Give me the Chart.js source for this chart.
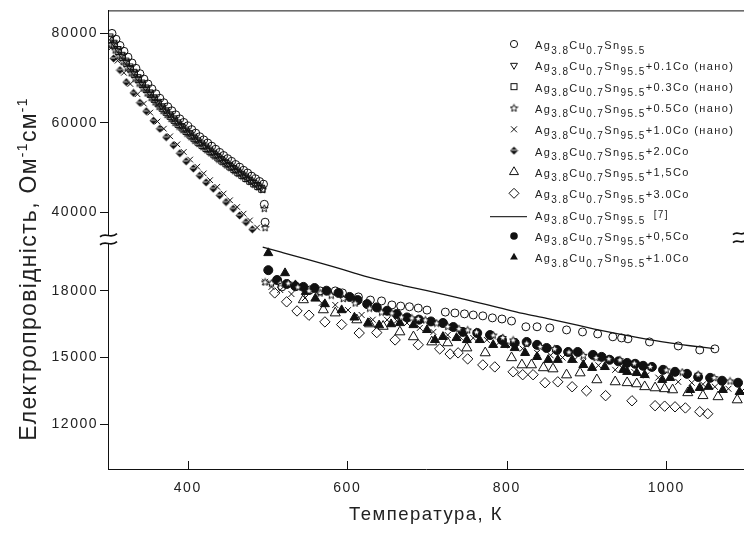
<!DOCTYPE html>
<html><head><meta charset="utf-8">
<script src="https://cdn.jsdelivr.net/npm/chart.js@4.4.0/dist/chart.umd.min.js"></script>
<style>html,body{margin:0;padding:0;background:#fff;overflow:hidden}canvas{display:block}</style>
</head><body>
<canvas id="c" width="744" height="534"></canvas>
<script>
// ---------- tick labels ----------
const xTicks = [400, 600, 800, 1000];
const yTopTicks = [40000, 60000, 80000];
const yBotTicks = [12000, 15000, 18000];
const xTitle = 'Температура, К';

// ---------- solid phase (upper segment) ----------
const circTopT = [305,310,315,320,325,330,335,340,345,350,355,360,365,370,375,380,385,390,395,400,405,410,415,420,425,430,435,440,445,450,455,460,465,470,475,480,485,490,495,496,497];
const circTopV = [80000,78700,77300,76000,74700,73400,72200,71000,69800,68700,67600,66500,65500,64500,63600,62700,61800,60900,60100,59300,58500,57700,56900,56200,55500,54800,54100,53400,52700,52000,51400,50700,50100,49400,48800,48100,47500,46900,46300,41800,37800];
const triDnT = [302,307,312,317,322,327,332,337,342,347,352,357,362,367,372,377,382,387,392,397,402,407,412,417,422,427,432,437,442,447,452,457,462,467,472,477,482,487,492];
const triDnV = [79400,78000,76600,75300,74000,72700,71500,70300,69100,68000,66900,65800,64800,63800,62900,62000,61100,60200,59400,58600,57800,57000,56200,55500,54800,54100,53400,52700,52000,51300,50700,50000,49400,48700,48100,47400,46800,46200,45600];
const sqT = [303,308,313,318,323,328,333,338,343,348,353,358,363,368,373,378,383,388,393,398,403,408,413,418,423,428,433,438,443,448,453,458,463,468,473,478,483,488,493];
const sqV = [78700,77400,76000,74700,73400,72100,70900,69700,68600,67500,66400,65300,64300,63300,62400,61500,60600,59700,58900,58100,57300,56500,55700,55000,54300,53600,52900,52200,51500,50900,50200,49600,48900,48300,47600,47000,46400,45800,45200];
const starTopT = [304,309,314,319,324,329,334,339,344,349,354,359,364,369,374,379,384,389,394,399,404,409,414,419,424,429,434,439,444,449,454,459,464,469,474,479,484,489,494,496,497];
const starTopV = [77500,76300,75000,73700,72400,71200,70000,68900,67800,66700,65700,64700,63700,62800,61900,61000,60100,59300,58500,57700,56900,56100,55400,54700,54000,53300,52600,51900,51300,50600,50000,49300,48700,48100,47500,46900,46300,45700,45100,40900,36600];
const crossTopT = [304,312,320,328,337,345,353,362,370,378,387,395,403,412,420,428,437,445,453,462,470,478,487];
const crossTopV = [76800,73900,71200,68700,66400,64300,62300,60300,58700,57000,55200,53500,51800,50200,48700,47200,45700,44200,42700,41200,39700,38200,36600];
const dia2T = [307,315,323,332,340,348,357,365,373,382,390,398,407,415,423,432,440,448,457,465,473,481];
const dia2V = [74400,71800,69100,66700,64500,62600,60500,58700,56800,55000,53200,51400,49800,48200,46700,45300,43800,42300,40800,39300,37800,36200];

// ---------- liquid phase (lower segment) ----------
const lineT = [494,520,550,580,610,640,670,700,730,760,790,820,850,880,910,940,970,1000,1030,1060];
const lineV = [19960,19700,19400,19100,18780,18480,18230,18000,17760,17500,17240,16980,16760,16520,16280,16060,15860,15680,15530,15400];
const circBotT = [518,553,566,585,594,614,629,643,656,667,678,689,700,723,735,747,758,770,782,794,806,824,838,854,875,895,914,933,944,952,979,1015,1042,1061];
const circBotV = [18170,18030,17990,17990,17900,17720,17580,17540,17360,17310,17280,17220,17130,17040,17000,16960,16910,16870,16780,16730,16640,16380,16380,16330,16240,16150,16060,15930,15880,15840,15700,15520,15340,15390];
const dia3T = [509,524,537,552,572,593,615,637,660,689,716,729,739,751,770,785,808,820,833,848,864,882,900,924,957,986,998,1011,1024,1042,1052];
const dia3V = [17900,17500,17090,16900,16600,16480,16100,16120,15790,15570,15390,15160,15210,14940,14670,14580,14360,14230,14230,13870,13910,13690,13510,13290,13060,12840,12820,12790,12740,12570,12480];
const tri15T = [545,570,585,612,628,645,666,683,706,726,750,773,806,819,831,846,858,875,892,913,936,951,963,973,986,998,1008,1027,1046,1065,1089];
const tri15V = [17590,17140,17000,16690,16510,16400,16150,15930,15700,15660,15430,15210,14990,14670,14670,14540,14490,14220,14310,14000,13910,13870,13820,13690,13640,13600,13550,13420,13290,13240,13100];
const dot05T = [501,512,524,535,545,559,574,589,603,613,625,637,650,662,675,690,705,720,733,745,763,779,794,810,825,838,850,863,877,889,908,919,929,940,951,961,971,982,996,1011,1026,1040,1055,1070,1090];
const dot05V = [18920,18480,18300,18200,18170,18120,18000,17900,17720,17580,17400,17250,17100,16950,16800,16700,16620,16550,16370,16150,16100,16010,15790,15660,15700,15570,15430,15340,15250,15250,15120,15030,14900,14830,14760,14720,14630,14580,14450,14360,14270,14130,14090,13960,13870];
const tri10T = [501,522,535,548,560,572,593,609,626,640,655,666,683,700,710,720,737,750,766,783,798,810,823,838,852,864,882,896,907,923,946,951,963,973,995,1005,1030,1042,1053,1071,1092];
const tri10V = [19690,18790,18250,17950,17650,17400,17130,16800,16550,16450,16500,16550,16460,16240,15790,15930,15880,15790,15790,15570,15570,15430,15210,15030,14900,14900,14900,14670,14540,14580,14450,14360,14310,14220,14000,14090,13550,13640,13690,13550,13460];
const starBotT = [497,505,516,526,538,552,566,580,595,610,628,643,656,668,681,689,698,712,726,740,751,762,783,795,808,825,842,860,878,896,912,928,942,960,980,1000,1020,1040,1060,1080];
const starBotV = [18390,18340,18340,18340,18170,18000,17900,17800,17650,17450,17220,17040,17000,16820,16780,16750,16690,16550,16400,16300,16240,16150,16010,15900,15790,15650,15500,15400,15250,15100,15000,14950,14900,14750,14600,14450,14350,14250,14100,13950];
const crossBotT = [497,505,516,530,547,568,585,601,618,632,650,662,675,691,708,726,741,758,775,791,805,820,838,855,870,885,896,915,936,946,960,975,990,1015,1032,1046,1061,1078,1095];
const crossBotV = [18400,18170,18030,17850,17670,17450,17360,17130,16910,16700,16690,16650,16550,16330,16150,16010,15930,15880,15790,15700,15550,15400,15210,15100,15000,14900,14810,14650,14450,14490,14350,14200,14100,13910,13870,13800,13690,13600,13500];

// ---------- legend ----------
const legendSuffix = ['', '+0.1Co (нано)', '+0.3Co (нано)', '+0.5Co (нано)', '+1.0Co (нано)', '+2.0Co', '+1,5Co', '+3.0Co', '[7]', '+0,5Co', '+1.0Co'];
const legendMarks = ['circ', 'triDn', 'sq', 'star', 'cross', 'dia2', 'triOpen', 'diaOpen', 'line', 'dot', 'triFill'];

const INK = '#111';
const NONE = 'rgba(0,0,0,0)';
const pts = (T, V) => T.map((t, i) => ({x: t, y: V[i]}));

function makeStar(size) {
  const c = document.createElement('canvas'); c.width = size; c.height = size;
  const g = c.getContext('2d'); const cx = size / 2, cy = size / 2 + 0.3;
  const R = size / 2 - 0.6, r = R * 0.45;
  g.beginPath();
  for (let i = 0; i < 10; i++) {
    const a = -Math.PI / 2 + i * Math.PI / 5; const rr = i % 2 ? r : R;
    g.lineTo(cx + rr * Math.cos(a), cy + rr * Math.sin(a));
  }
  g.closePath(); g.fillStyle = '#fff'; g.fill(); g.strokeStyle = INK; g.lineWidth = 1; g.stroke();
  return c;
}
function makeDia(size) {
  const c = document.createElement('canvas'); c.width = size; c.height = size;
  const g = c.getContext('2d'); const h = size / 2;
  g.beginPath(); g.moveTo(h, 0.5); g.lineTo(size - 0.5, h); g.lineTo(h, size - 0.5); g.lineTo(0.5, h); g.closePath();
  g.fillStyle = '#111'; g.fill();
  g.strokeStyle = '#ddd'; g.lineWidth = 1; g.beginPath(); g.moveTo(1.5, h - 0.5); g.lineTo(size - 1.5, h - 0.5); g.stroke();
  return c;
}
const starImg = makeStar(9);
const diaImg = makeDia(9);

function ds(label, T, V, axis, style) {
  return Object.assign({label, data: pts(T, V), yAxisID: axis, showLine: false,
    borderColor: INK, backgroundColor: NONE, pointBorderColor: INK, pointBackgroundColor: NONE,
    pointBorderWidth: 1, pointHoverRadius: 0}, style);
}

const datasets = [
  // lower segment
  Object.assign(ds('ref7', lineT, lineV, 'yBot', {}), {showLine: true, pointRadius: 0, borderWidth: 1.3, borderColor: '#151515', tension: 0.4, cubicInterpolationMode: 'monotone'}),
  ds('3.0Co', dia3T, dia3V, 'yBot', {pointStyle: 'rectRot', pointRadius: 5.2}),
  ds('1.5Co', tri15T, tri15V, 'yBot', {pointStyle: 'triangle', pointRadius: 5.8}),
  ds('circ bot', circBotT, circBotV, 'yBot', {pointStyle: 'circle', pointRadius: 4}),
  ds('star bot', starBotT, starBotV, 'yBot', {pointStyle: starImg}),
  ds('cross bot', crossBotT, crossBotV, 'yBot', {pointStyle: 'crossRot', pointRadius: 4.2}),
  ds('0.5Co', dot05T, dot05V, 'yBot', {pointStyle: 'circle', pointRadius: 4.5, pointBackgroundColor: INK}),
  ds('1.0Co', tri10T, tri10V, 'yBot', {pointStyle: 'triangle', pointRadius: 5.2, pointBackgroundColor: INK}),
  // upper segment
  ds('circ top', circTopT, circTopV, 'yTop', {pointStyle: 'circle', pointRadius: 4}),
  ds('0.1Co nano', triDnT, triDnV, 'yTop', {pointStyle: 'triangle', rotation: 180, pointRotation: 180, pointRadius: 4.2}),
  ds('0.3Co nano', sqT, sqV, 'yTop', {pointStyle: 'rect', pointRadius: 4.5}),
  ds('star top', starTopT, starTopV, 'yTop', {pointStyle: starImg}),
  ds('cross top', crossTopT, crossTopV, 'yTop', {pointStyle: 'crossRot', pointRadius: 4}),
  ds('2.0Co', dia2T, dia2V, 'yTop', {pointStyle: diaImg})
];

Chart.defaults.font.family = '"Liberation Sans", Arial, Helvetica, sans-serif';
Chart.defaults.color = '#222';

function yAxis(min, max, ticks, weight) {
  return {
    type: 'linear', position: 'left', stack: 'y', stackWeight: weight, min, max,
    afterBuildTicks: s => { s.ticks = ticks.map(v => ({value: v})); },
    afterFit: s => { s.width = 108; s.paddingRight = 0; s.paddingLeft = 0; },
    grid: {drawOnChartArea: false, drawTicks: true, tickLength: 8, color: INK, lineWidth: 1},
    border: {display: true, color: INK, width: 1},
    ticks: {padding: 2, font: {size: 14}, color: '#222', callback: v => String(v)}
  };
}

function drawMark(ctx, type, x, y) {
  ctx.save();
  ctx.strokeStyle = INK; ctx.fillStyle = INK; ctx.lineWidth = 1;
  const tri = (r, down) => {
    ctx.beginPath();
    const s = down ? -1 : 1;
    ctx.moveTo(x, y - s * r);
    ctx.lineTo(x + r * 0.866, y + s * r * 0.5);
    ctx.lineTo(x - r * 0.866, y + s * r * 0.5);
    ctx.closePath();
  };
  switch (type) {
    case 'circ': ctx.beginPath(); ctx.arc(x, y, 3.6, 0, Math.PI * 2); ctx.stroke(); break;
    case 'dot': ctx.beginPath(); ctx.arc(x, y, 3.8, 0, Math.PI * 2); ctx.fill(); break;
    case 'triDn': tri(4, true); ctx.stroke(); break;
    case 'triOpen': tri(5.2, false); ctx.stroke(); break;
    case 'triFill': tri(4.5, false); ctx.fill(); break;
    case 'sq': ctx.strokeRect(x - 3, y - 3, 6, 6); break;
    case 'star': ctx.drawImage(starImg, x - 4.5, y - 4.5); break;
    case 'dia2': ctx.drawImage(diaImg, x - 4.5, y - 4.5); break;
    case 'cross': ctx.beginPath(); ctx.moveTo(x - 3, y - 3); ctx.lineTo(x + 3, y + 3); ctx.moveTo(x + 3, y - 3); ctx.lineTo(x - 3, y + 3); ctx.stroke(); break;
    case 'diaOpen': ctx.beginPath(); ctx.moveTo(x, y - 5); ctx.lineTo(x + 5, y); ctx.lineTo(x, y + 5); ctx.lineTo(x - 5, y); ctx.closePath(); ctx.stroke(); break;
    case 'line': ctx.strokeStyle = '#333'; ctx.lineWidth = 1.2; ctx.beginPath(); ctx.moveTo(490, y + 2); ctx.lineTo(527, y + 2); ctx.stroke(); break;
  }
  ctx.restore();
}

function drawFormula(ctx, x, y, suffix) {
  const parts = [['Ag', 0], ['3.8', 1], ['Cu', 0], ['0.7', 1], ['Sn', 0], ['95.5', 1]];
  for (const [t, sub] of parts) {
    ctx.font = (sub ? '10px' : '11px') + ' "Liberation Sans", Arial, sans-serif';
    ctx.fillText(t, x, y + (sub ? 9.5 : 5));
    x += ctx.measureText(t).width;
  }
  if (suffix === '[7]') {
    ctx.font = '10px "Liberation Sans", Arial, sans-serif';
    ctx.fillText(suffix, x + 8, y + 3);
  } else if (suffix) {
    ctx.font = '11px "Liberation Sans", Arial, sans-serif';
    ctx.fillText(suffix, x, y + 4.5);
  }
}

const decor = {
  id: 'decor',
  beforeDraw(chart) { chart.ctx.letterSpacing = '1.5px'; },
  afterDraw(chart) {
    const ctx = chart.ctx, a = chart.chartArea, xs = chart.scales.x, yt = chart.scales.yTop;
    ctx.save();
    ctx.strokeStyle = INK; ctx.lineWidth = 1;
    // top frame line
    ctx.beginPath(); ctx.moveTo(a.left, a.top + 0.5); ctx.lineTo(a.right, a.top + 0.5); ctx.stroke();
    // inward x ticks
    for (const v of xTicks) {
      const px = Math.round(xs.getPixelForValue(v)) + 0.5;
      ctx.beginPath(); ctx.moveTo(px, a.bottom); ctx.lineTo(px, a.bottom - 8); ctx.stroke();
    }
    // axis break
    const by = yt.bottom;
    ctx.fillStyle = '#fff';
    ctx.fillRect(a.left - 3, by - 4, 6, 8);
    ctx.lineWidth = 1.7; ctx.strokeStyle = '#111';
    const wave = (x0, y0, w) => {
      ctx.beginPath(); ctx.moveTo(x0, y0 + 1.5);
      ctx.bezierCurveTo(x0 + w * 0.35, y0 - 3, x0 + w * 0.65, y0 + 4, x0 + w, y0 - 1.5);
      ctx.stroke();
    };
    wave(a.left - 8, by - 4, 17); wave(a.left - 8, by + 4, 17);
    wave(a.right - 11, by - 6, 13); wave(a.right - 11, by + 2, 13);
    // legend
    ctx.fillStyle = '#222'; ctx.letterSpacing = '1.4px'; ctx.textBaseline = 'alphabetic'; ctx.textAlign = 'left';
    for (let i = 0; i < legendSuffix.length; i++) {
      const ry = 44 + i * 21.33;
      drawMark(ctx, legendMarks[i], 514, ry);
      ctx.fillStyle = '#222';
      drawFormula(ctx, 535, ry, legendSuffix[i]);
    }
    // y axis title
    ctx.letterSpacing = '1.3px';
    const segs = [['Електропровідність, Ом', 0], ['-1', 1], ['см', 0], ['-1', 1]];
    const big = '23px "Liberation Sans", Arial, sans-serif', small = '14px "Liberation Sans", Arial, sans-serif';
    let total = 0;
    for (const [t, s] of segs) { ctx.font = s ? small : big; total += ctx.measureText(t).width; }
    ctx.translate(36, 269); ctx.rotate(-Math.PI / 2);
    let x = -total / 2;
    for (const [t, s] of segs) {
      ctx.font = s ? small : big;
      ctx.fillText(t, x, s ? -9 : 0);
      x += ctx.measureText(t).width;
    }
    ctx.restore();
  }
};

new Chart(document.getElementById('c'), {
  type: 'scatter',
  data: {datasets},
  options: {
    responsive: false, animation: false, events: [],
    layout: {autoPadding: false, padding: {top: 10, left: 0, right: 0, bottom: 0}},
    plugins: {legend: {display: false}, tooltip: {enabled: false}},
    scales: {
      x: {
        type: 'linear', position: 'bottom', min: 300, max: 1097.5,
        afterBuildTicks: s => { s.ticks = xTicks.map(v => ({value: v})); },
        afterFit: s => { s.height = 65; s.paddingRight = 0; s.paddingLeft = 0; },
        grid: {display: true, drawOnChartArea: false, drawTicks: false, color: INK},
        border: {display: true, color: INK, width: 1},
        ticks: {padding: 11, font: {size: 14}, color: '#222', callback: v => String(v)},
        title: {display: true, text: xTitle, font: {size: 18.5}, color: '#222', padding: {top: 0, bottom: 8}}
      },
      yBot: yAxis(10000, 20310, yBotTicks, 230),
      yTop: yAxis(34000, 85140, yTopTicks, 229)
    }
  },
  plugins: [decor]
});
</script>
</body></html>
